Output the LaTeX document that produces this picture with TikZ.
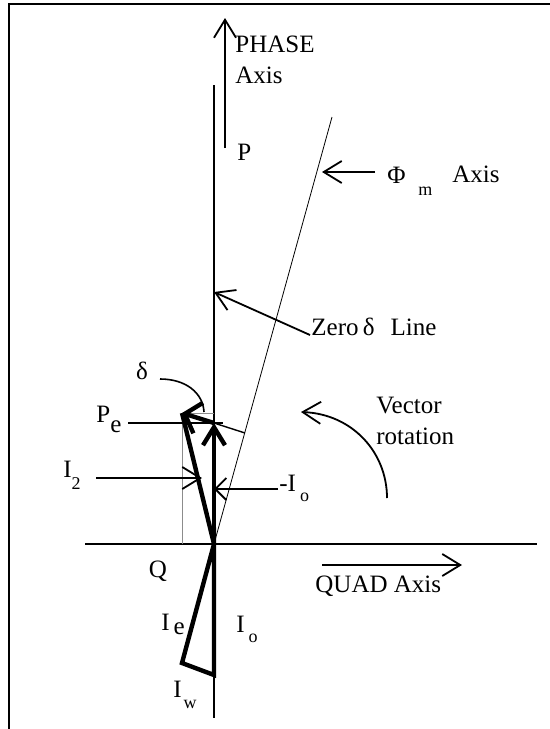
\documentclass[tikz,border=0pt]{standalone}
\usepackage{fontspec}
\setmainfont{Liberation Serif}
\usetikzlibrary{arrows.meta}
\tikzset{>={Straight Barb[length=9pt,width=11pt]}}
\newcommand\lowtxt[2]{\raisebox{-#1}{\fontsize{9}{10}\selectfont #2}} % lowered small index

\begin{document}
\begin{tikzpicture}[x=0.5pt,y=-0.5pt,
  every node/.style={font=\fontsize{12.5}{15}\selectfont,inner sep=0pt},
  txt/.style={anchor=base west},
  axisline/.style={line width=1pt},
  vec/.style={line width=2.2pt},
  guide/.style={line width=0.5pt,black!45},
  pointer/.style={->,line width=0.9pt}]
  \useasboundingbox (0,0) rectangle (550,729);
  \draw[line width=1pt] (9,729) -- (9,4) -- (550,4); % frame
  % main points of the diagram
  \coordinate (O) at (214,544); % origin
  \coordinate (Pe) at (182,413); % tip of P_e
  \coordinate (mIo) at (214,423); % tip of -I_o
  \coordinate (Io) at (214,675); % tip of I_o
  \coordinate (Ie) at (182,663); % tip of I_e
  \coordinate (Fm) at (332,117); % end of flux axis
  \coordinate (Fp) at (245,433); % foot on flux axis
  \coordinate (zd) at (214,292); % zero delta point
  % axes
  \draw[line width=0.8pt] (214,85) -- (214,718); % phase line
  \draw[axisline] (85,544) -- (537,544); % quad line
  \draw[line width=0.4pt] (O) -- (Fm); % flux axis
  \draw[guide] (Pe |- O) -- (Pe) -- (mIo |- Pe); % projection
  \draw[line width=0.7pt] (mIo) -- (Fp);
  % vectors
  \draw[vec,line join=miter] (O) -- (Io) -- (Ie) -- cycle; % I_o, I_w, I_e
  \draw[vec] (O) -- (Pe);
  \draw[vec,->] (O) -- (mIo); % -I_o
  \draw[vec,-{Straight Barb[length=7pt,width=16pt]}] (mIo) -- (Pe);
  % labels
  \node[txt] (phase) at (235,52) {PHASE};
  \node[txt] (phaseax) at (235,83) {Axis};
  \node[txt] (p) at (237,160) {P};
  \node[txt] (phi) at (387,183) {Φ};
  \node[txt,font=\fontsize{9}{10}\selectfont] (phim) at (418,195) {m};
  \node[txt] (phiax) at (452,182) {Axis};
  \node[txt] (zero) at (311,335) {Zero\,δ\hspace{8pt}Line};
  \node[txt] (vect) at (376,413) {Vector};
  \node[txt] (rot) at (376,444) {rotation};
  \node[txt] (lmIo) at (279,491) {-I\hspace{2pt}\lowtxt{5pt}{o}};
  \node[txt] (lI2) at (63,477) {I\lowtxt{6pt}{2}};
  \node[txt] (lPe) at (96,422) {P\raisebox{-5pt}{e}};
  \node (delta) at (142,371) {δ};
  \node (q) at (158,571) {Q};
  \node[txt] (quad) at (315,592) {QUAD Axis};
  \node[txt] (lIe) at (161,630) {I\hspace{2pt}\raisebox{-2pt}{e}};
  \node[txt] (lIo) at (236,632) {I\hspace{2pt}\lowtxt{5pt}{o}};
  \node[txt] (lIw) at (173,697) {I\hspace{1pt}\lowtxt{5.5pt}{w}};
  % pointers
  \draw[pointer] (225,148) -- (225,18); % phase axis arrow
  \draw[pointer] (322,565) -- (462,565); % quad axis arrow
  \draw[pointer] (375,172) -- (322,172); % flux axis pointer
  \draw[pointer] (310,335) -- (zd); % zero delta pointer
  \draw[pointer] (387,498) .. controls (387,452) and (352,414) .. (301,412); % rotation
  \draw[line width=0.8pt] (160,379) .. controls (186,379) and (203,393) .. (204,412); % delta arc
  \draw[line width=0.9pt] (128,423) -- (223,423); % P_e line
  \draw[pointer] (96,478) -- (202,478); % I_2 pointer
  \draw[pointer,-{Straight Barb[length=5.5pt,width=11pt]}] (278,489) -- (214,489); % -I_o pointer
\end{tikzpicture}
\end{document}
